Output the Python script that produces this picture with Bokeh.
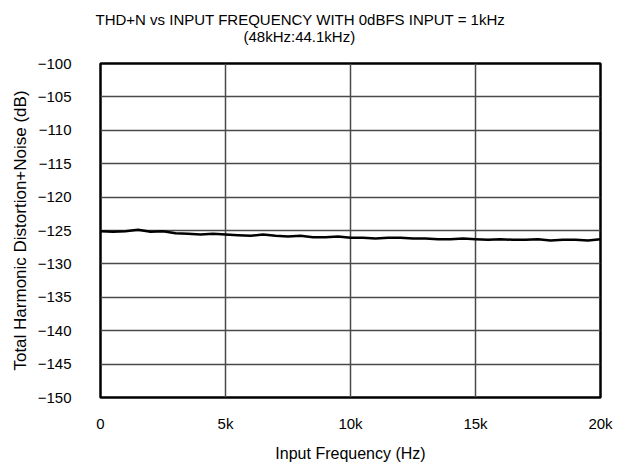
from bokeh.plotting import figure
from bokeh.models import FixedTicker, Range1d, Title
from bokeh.embed import file_html
from bokeh.resources import INLINE

title_lines = ["THD+N vs INPUT FREQUENCY WITH 0dBFS INPUT = 1kHz", "(48kHz:44.1kHz)"]
x_label = "Input Frequency (Hz)"
y_label = "Total Harmonic Distortion+Noise (dB)"

freq_hz = [0, 500, 1000, 1500, 2000, 2500, 3000, 3500, 4000, 4500, 5000,
           5500, 6000, 6500, 7000, 7500, 8000, 8500, 9000, 9500, 10000,
           10500, 11000, 11500, 12000, 12500, 13000, 13500, 14000, 14500, 15000,
           15500, 16000, 16500, 17000, 17500, 18000, 18500, 19000, 19500, 20000]
thdn_db = [-125.1, -125.2, -125.1, -124.9, -125.2, -125.1, -125.4, -125.5, -125.6, -125.5, -125.6,
           -125.7, -125.8, -125.6, -125.8, -125.9, -125.8, -126.0, -126.0, -125.9, -126.1,
           -126.1, -126.2, -126.1, -126.1, -126.2, -126.2, -126.3, -126.3, -126.2, -126.3,
           -126.4, -126.3, -126.4, -126.4, -126.3, -126.5, -126.4, -126.4, -126.5, -126.3]

x_ticks = [0, 5000, 10000, 15000, 20000]
x_tick_labels = ["0", "5k", "10k", "15k", "20k"]
y_ticks = [-150, -145, -140, -135, -130, -125, -120, -115, -110, -105, -100]
y_tick_labels = ["\u2212150", "\u2212145", "\u2212140", "\u2212135", "\u2212130", "\u2212125",
                 "\u2212120", "\u2212115", "\u2212110", "\u2212105", "\u2212100"]

FONT = "Liberation Sans"
W, H = 617, 470

p = figure(width=W, height=H, output_backend="svg", toolbar_location=None,
           x_range=Range1d(0, 20000), y_range=Range1d(-150, -100),
           min_border_left=100, min_border_right=17, min_border_top=63, min_border_bottom=73)
p.background_fill_color = "white"
p.border_fill_color = "white"
p.outline_line_color = "black"
p.outline_line_width = 2.5

p.line(freq_hz, thdn_db, line_color="black", line_width=2.5)

for ax in (p.xaxis[0], p.yaxis[0]):
    ax.axis_line_color = None
    ax.major_tick_line_color = None
    ax.minor_tick_line_color = None
    ax.major_label_text_font = FONT
    ax.major_label_text_font_size = "15px"
    ax.major_label_text_color = "black"
    ax.axis_label_text_font = FONT
    ax.axis_label_text_font_style = "normal"
    ax.axis_label_text_color = "black"

p.xaxis[0].ticker = FixedTicker(ticks=x_ticks)
p.xaxis[0].major_label_overrides = dict(zip(x_ticks, x_tick_labels))
p.xaxis[0].major_label_standoff = 11
p.xaxis[0].axis_label = x_label
p.xaxis[0].axis_label_text_font_size = "16px"
p.xaxis[0].axis_label_standoff = 10

p.yaxis[0].ticker = FixedTicker(ticks=y_ticks)
p.yaxis[0].major_label_overrides = dict(zip(y_ticks, y_tick_labels))
p.yaxis[0].major_label_standoff = 23
p.yaxis[0].axis_label = y_label
p.yaxis[0].axis_label_text_font_size = "17px"
p.yaxis[0].axis_label_standoff = 5

p.xgrid[0].ticker = FixedTicker(ticks=x_ticks)
p.ygrid[0].ticker = FixedTicker(ticks=y_ticks)
for g in (p.xgrid[0], p.ygrid[0]):
    g.grid_line_color = "#4a4a4a"
    g.grid_line_width = 1.5

title_style = dict(text_font=FONT, text_font_size="15px", text_font_style="normal",
                   text_color="black", align="left")
# blank spacer closest to the frame, then the second line, then the first line
p.add_layout(Title(text=" ", standoff=-2, **title_style), "above")
p.add_layout(Title(text=title_lines[1], offset=143, standoff=0, vertical_align="top",
                   **title_style), "above")
p.add_layout(Title(text=title_lines[0], offset=-5, standoff=0, vertical_align="bottom",
                   **title_style), "above")

open("out.html", "w").write(file_html(p, INLINE))
